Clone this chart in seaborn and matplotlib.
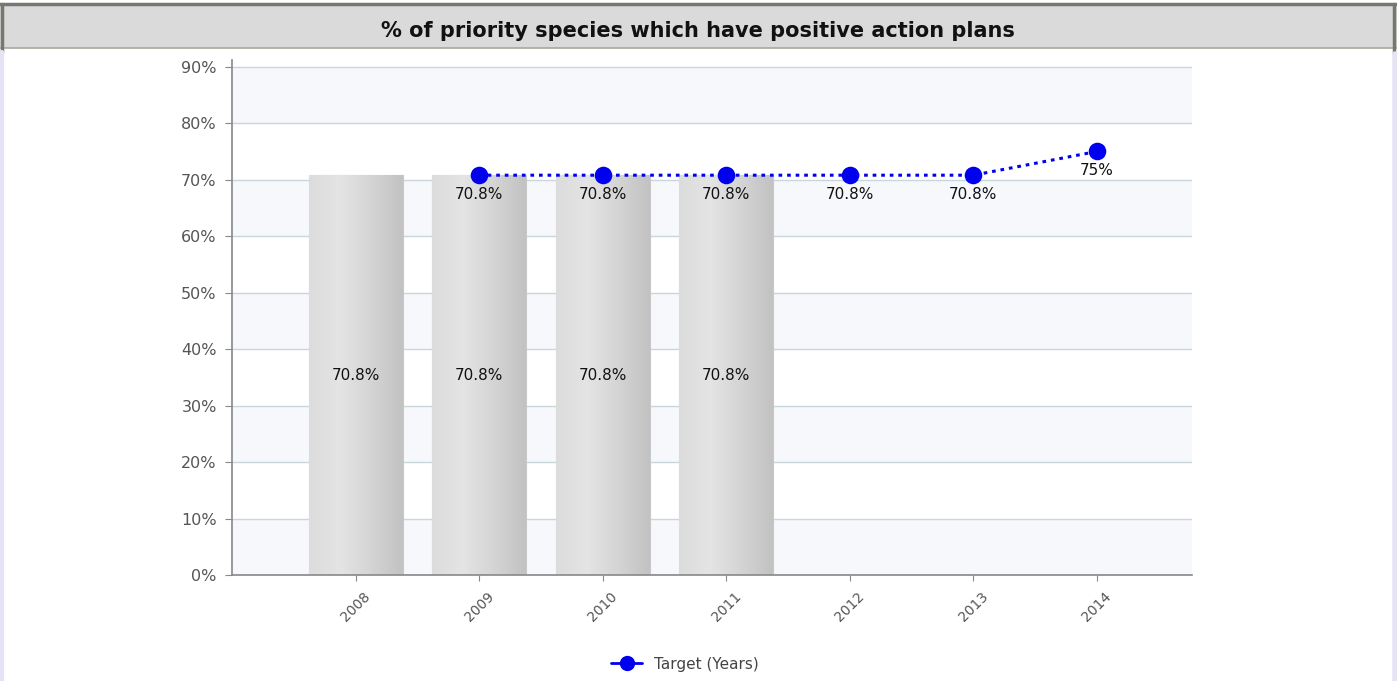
import numpy as np
import pandas as pd
import matplotlib
matplotlib.use("Agg")
import matplotlib.pyplot as plt
import seaborn as sns
from matplotlib.patches import Rectangle
from matplotlib.lines import Line2D

# data
years = ["2008", "2009", "2010", "2011", "2012", "2013", "2014"]
actual = [70.8, 70.8, 70.8, 70.8, np.nan, np.nan, np.nan]
target = [np.nan, 70.8, 70.8, 70.8, 70.8, 70.8, 75.0]
yticks = [0, 10, 20, 30, 40, 50, 60, 70, 80, 90]

df = pd.DataFrame({"year": years, "actual": actual, "target": target})

sns.set_style("white")
plt.rcParams["font.family"] = ["DejaVu Sans"]

W, H = 1397, 681
fig = plt.figure(figsize=(W / 100, H / 100), dpi=100)

# header bar and frame
fig.patches.append(Rectangle((0, 1 - 48 / H), 1, 44 / H, transform=fig.transFigure,
                             facecolor="#dadada", edgecolor="none", zorder=0))
fig.add_artist(Line2D([0, 1], [1 - 4 / H, 1 - 4 / H], transform=fig.transFigure,
                      color="#77776f", lw=2.5))
fig.add_artist(Line2D([0, 1], [1 - 48 / H, 1 - 48 / H], transform=fig.transFigure,
                      color="#a8a8a0", lw=1.2))
fig.add_artist(Line2D([1.5 / W, 1.5 / W], [1 - 4 / H, 1 - 52 / H], transform=fig.transFigure,
                      color="#77776f", lw=2.5))
fig.add_artist(Line2D([1.5 / W, 1.5 / W], [0, 1 - 52 / H], transform=fig.transFigure,
                      color="#e4e4f6", lw=3))
fig.add_artist(Line2D([1393.5 / W, 1393.5 / W], [1 - 4 / H, 1 - 54 / H], transform=fig.transFigure,
                      color="#77776f", lw=2.5))
fig.add_artist(Line2D([1395 / W, 1395 / W], [0, 1 - 54 / H], transform=fig.transFigure,
                      color="#e4e4f6", lw=4))
fig.text(698 / W, 1 - 31 / H, "% of priority species which have positive action plans",
         ha="center", va="center", fontsize=15, fontweight="bold", color="#111111")

ax = fig.add_axes([232 / W, 1 - 575 / H, (1192 - 232) / W, (575 - 60) / H])

# pale alternating bands
for i, lo in enumerate(yticks):
    if i % 2 == 0:
        ax.axhspan(lo, lo + 10, color="#f6f8fc", lw=0, zorder=0)

sns.barplot(data=df, x="year", y="actual", order=years, color="#d6d6d6",
            width=0.76, edgecolor="#c8c8c8", linewidth=0.8, ax=ax, zorder=2)

# gradient on bars
grad = np.linspace(0, 1, 256).reshape(1, -1)
cmap = matplotlib.colors.LinearSegmentedColormap.from_list(
    "bar", ["#dcdcdc", "#e4e4e4", "#d4d4d4", "#c2c2c2"])
for p in ax.containers[0]:
    h = p.get_height()
    if np.isnan(h) or h == 0:
        continue
    x0 = p.get_x()
    im = ax.imshow(grad, extent=[x0, x0 + p.get_width(), 0, h], aspect="auto",
                   cmap=cmap, zorder=2.5)
    im.set_clip_path(p)

for i, v in enumerate(actual):
    if not np.isnan(v):
        ax.text(i, v / 2, f"{v:g}%", ha="center", va="center", fontsize=11, color="#111111", zorder=4)

sns.pointplot(data=df, x="year", y="target", order=years, color="#0000ee",
              linestyles=(0, (1.2, 1.6)), markers="o", markersize=11, linewidth=2.2,
              ax=ax, zorder=5)

for i, v in enumerate(target):
    if not np.isnan(v):
        ax.annotate(f"{v:g}%", (i, v), xytext=(0, -14), textcoords="offset points",
                    ha="center", va="center", fontsize=11, color="#111111", zorder=6)

ax.set_xlim(-1.0, 6.77)
ax.set_ylim(0, 91.2)
ax.set_yticks(yticks)
ax.set_yticklabels([f"{t}%" for t in yticks], fontsize=11.5, color="#555555")
ax.set_xticks(range(len(years)))
ax.set_xticklabels(years, rotation=45, fontsize=10, color="#555555")
ax.yaxis.grid(True, color="#c9d6dc", lw=1)
ax.set_axisbelow(True)
ax.tick_params(axis="y", length=5, color="#888888", left=True, pad=6)
ax.tick_params(axis="x", length=4, color="#888888", bottom=True, pad=6)
ax.set_xlabel("")
ax.set_ylabel("")
for s in ["top", "right"]:
    ax.spines[s].set_visible(False)
for s in ["left", "bottom"]:
    ax.spines[s].set_color("#888888")
    ax.spines[s].set_linewidth(1.2)

handle = Line2D([], [], color="#0000ee", marker="o", markersize=10, lw=2)
fig.legend([handle], ["Target (Years)"], loc="center",
           bbox_to_anchor=(685 / W, 1 - 664 / H), frameon=False, fontsize=11,
           handlelength=2, labelcolor="#444444")

fig.savefig("out.png", dpi=100)
